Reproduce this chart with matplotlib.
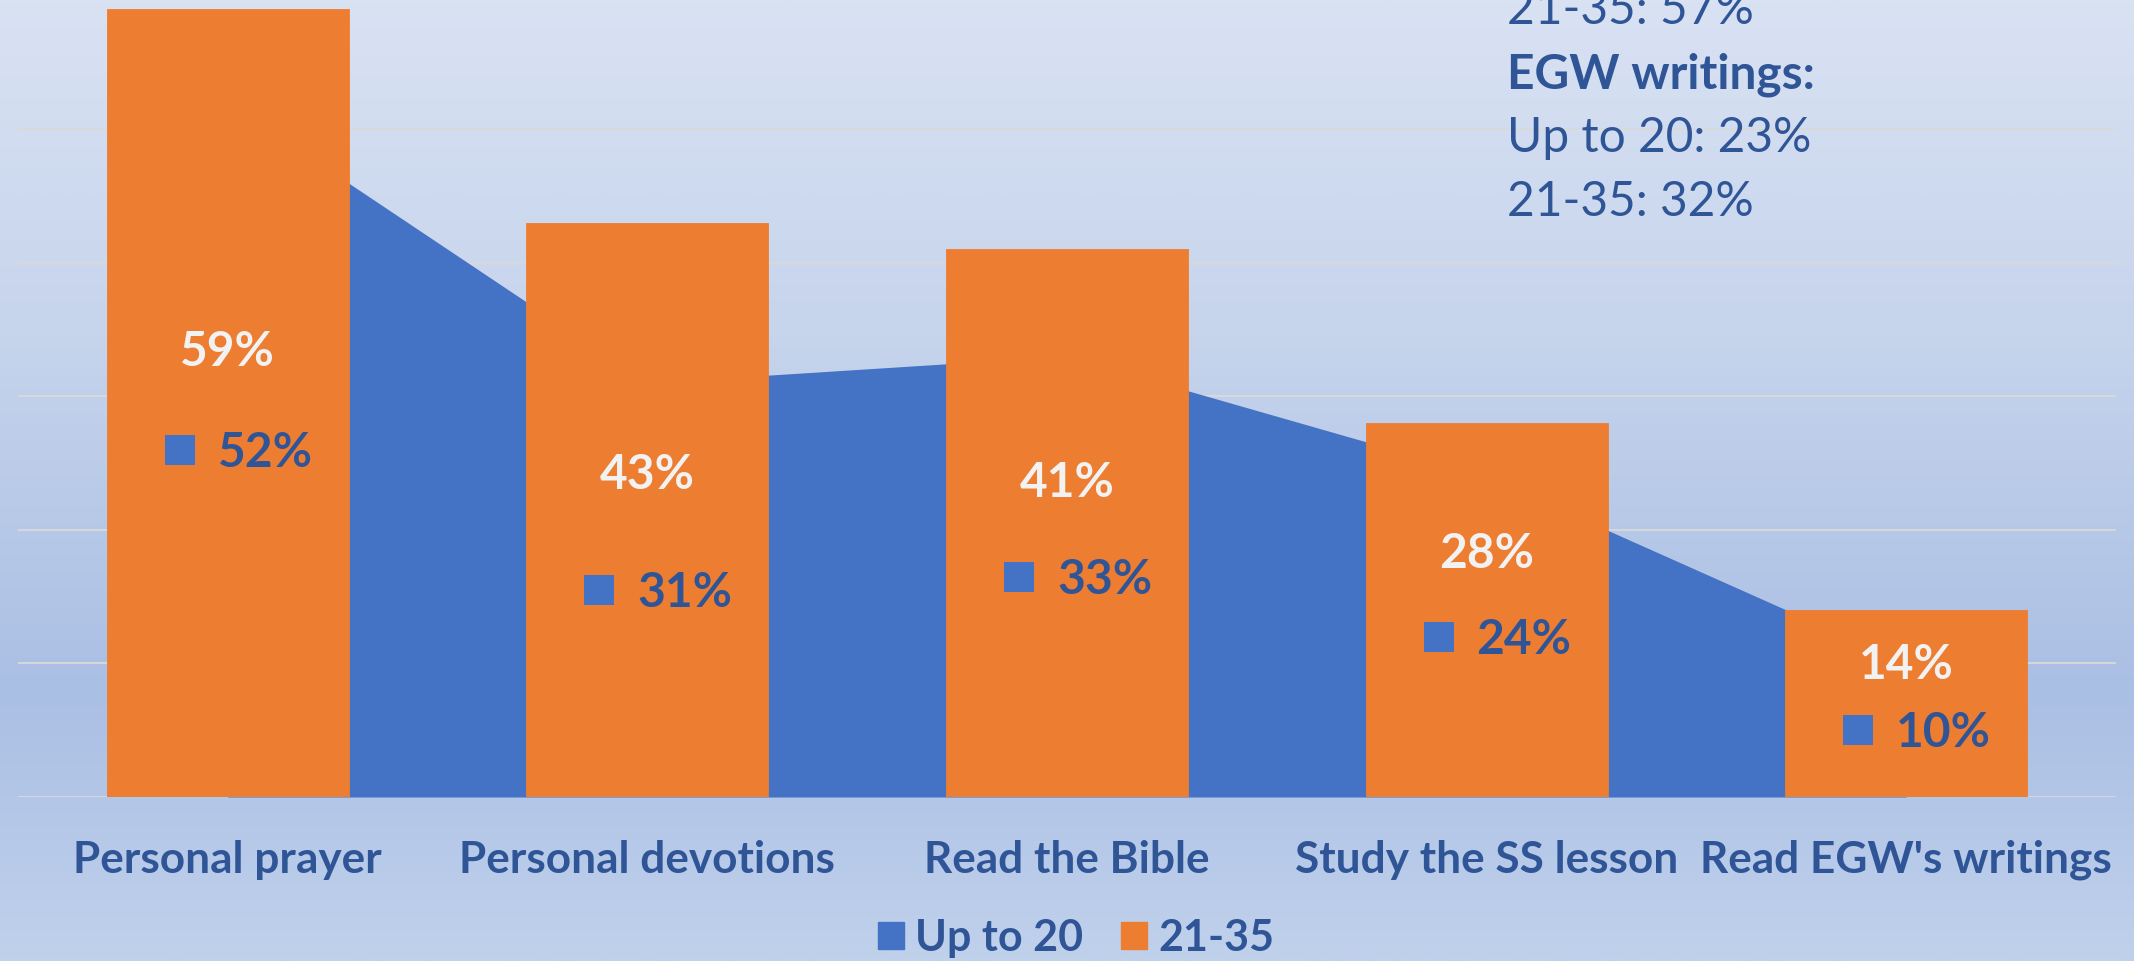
import numpy as np
import matplotlib
matplotlib.use("Agg")
import matplotlib.pyplot as plt
from matplotlib.patches import Patch
from matplotlib.colors import LinearSegmentedColormap
import matplotlib.transforms as mtransforms

# ---- data ----
categories = ["Personal prayer", "Personal devotions", "Read the Bible",
              "Study the SS lesson", "Read EGW's writings"]
up_to_20 = [52, 31, 33, 24, 10]
age_21_35 = [59, 43, 41, 28, 14]
series_names = ["Up to 20", "21-35"]
# vertical placement (in %) of the 21-35 value labels as placed in the source
orange_label_pos = [33.5, 24.3, 23.7, 18.4, 10.1]
note_lines = ["21-35: 57%", "EGW writings:", "Up to 20: 23%", "21-35: 32%"]
note_bold = [False, True, False, False]

BLUE = "#4472C4"
ORANGE = "#ED7D31"
DARK = "#2F5597"
FONT = "Lato"

W, H = 2134, 961
fig = plt.figure(figsize=(W / 100, H / 100), dpi=100)

# background gradient
bg = fig.add_axes([0, 0, 1, 1], zorder=-10)
cmap = LinearSegmentedColormap.from_list(
    "bg", [(0.0, "#D9E2F3"), (0.35, "#C6D4EC"), (0.72, "#AABFE4"), (1.0, "#C0D1EC")])
grad = np.linspace(0, 1, 512).reshape(-1, 1)
bg.imshow(grad, aspect="auto", cmap=cmap, extent=[0, 1, 0, 1], origin="upper")
bg.axis("off")

# main axes: baseline at y=797 px, 13.36 px per %
base_px = 797
px_per = 13.36
ymax = 70
ax = fig.add_axes([18 / W, (H - base_px) / H, 2098 / W, ymax * px_per / H])
ax.patch.set_alpha(0)
x = np.arange(len(categories))
ax.set_xlim(-0.5, len(categories) - 0.5)
ax.set_ylim(0, ymax)

ax.fill_between(x, 0, up_to_20, color=BLUE, linewidth=0, zorder=2)
ax.bar(x, age_21_35, width=0.577, color=ORANGE, edgecolor=ORANGE,
       linewidth=0.6, zorder=3)

ax.set_yticks(np.arange(0, ymax + 1, 10))
ax.yaxis.grid(True, color="#D9D9D9", linewidth=1.3)
ax.set_axisbelow(True)
ax.tick_params(axis="y", length=0, labelleft=False)
for s in ax.spines.values():
    s.set_visible(False)

ax.set_xticks(x)
ax.set_xticklabels(categories, fontfamily=FONT, fontweight="bold",
                   fontsize=31.8, color=DARK)
ax.tick_params(axis="x", length=0, pad=54.7)
for lbl in ax.get_xticklabels():
    lbl.set_va("baseline")

# orange labels
for i, (v, p) in enumerate(zip(age_21_35, orange_label_pos)):
    ax.annotate(f"{v}%", xy=(i, p), xytext=(0, -17), textcoords="offset pixels",
                ha="center", va="baseline", fontsize=34.5, fontweight="bold",
                fontfamily=FONT, color="#F2F2F2", zorder=6)

# blue labels with legend key
mk_tr = mtransforms.offset_copy(ax.transData, fig=fig, x=-48, y=0, units="dots")
for i, v in enumerate(up_to_20):
    ax.plot(i, v / 2, marker="s", markersize=21.6, color=BLUE,
            markeredgewidth=0, transform=mk_tr, zorder=6, clip_on=False)
    ax.annotate(f"{v}%", xy=(i, v / 2), xytext=(-10, -17), textcoords="offset pixels",
                ha="left", va="baseline", fontsize=34.5, fontweight="bold",
                fontfamily=FONT, color=DARK, zorder=6)

# note text (top right)
baselines = [24.5, 88.5, 152.5, 216.5]
for txt, b, yb in zip(note_lines, note_bold, baselines):
    fig.text(1507 / W, 1 - yb / H, txt, ha="left", va="baseline",
             fontsize=34.5, fontfamily=FONT,
             fontweight="bold" if b else "normal", color=DARK)

# legend
handles = [Patch(color=BLUE), Patch(color=ORANGE)]
fig.legend(handles, series_names, loc="center", ncol=2, frameon=False,
           bbox_to_anchor=(1076 / W, 1 - 938 / H),
           prop={"family": FONT, "weight": "bold", "size": 31},
           labelcolor=DARK, handlelength=0.6, handleheight=0.6,
           handletextpad=0.25, columnspacing=0.9)

fig.savefig("out.png", dpi=100)
